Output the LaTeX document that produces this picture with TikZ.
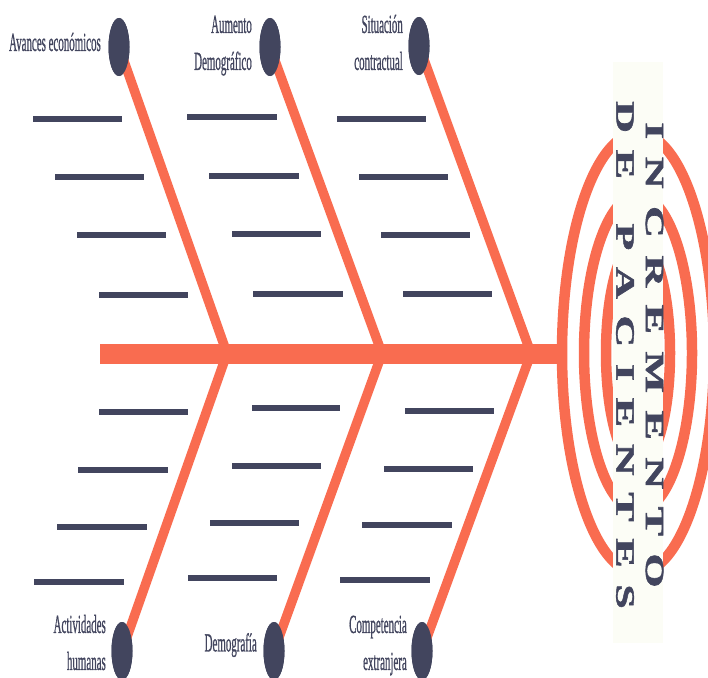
\documentclass[tikz,border=0pt]{standalone}
\usepackage{fontspec}
\setmainfont{Liberation Serif}
\newfontfamily\lblfont[FakeBold=1.2]{Liberation Serif}
\newfontfamily\bandfont[FakeBold=1.5]{Liberation Serif Bold}
\usetikzlibrary{shapes.geometric}
\definecolor{coral}{RGB}{249,108,80}
\definecolor{navy}{RGB}{66,69,94}
\definecolor{bandcol}{RGB}{252,253,246}
\newcommand{\lbl}[1]{\scalebox{0.42}[1]{\lblfont\fontsize{26}{37}\selectfont\begin{tabular}{@{}r@{}}#1\end{tabular}}}
\newcommand{\mygap}{\hspace{17.5pt}}
\newcommand{\mygapb}{\hspace{16.7pt}}
\begin{document}
\begin{tikzpicture}[x=1pt,y=-1pt,
  rib/.style={navy, line width=5.5},
  spine/.style={coral, line width=20},
  branch/.style={coral, line width=9.5},
  ring/.style={coral, line width=10.5},
  head/.style={ellipse, fill=navy, minimum width=21, minimum height=58, inner sep=0},
  label/.style={text=navy, inner sep=0, anchor=east},
  bandtext/.style={text=navy, inner sep=0, anchor=north}]
\useasboundingbox (0,0) rectangle (708,677);
\fill[white] (0,0) rectangle (708,677);
% ribs
\foreach \a/\b/\y in {33/122/119, 55/144/177, 77/166/235, 99/188/295,
                      187/277/117, 209/299/176, 232/321/234, 253/343/294,
                      337/426/119, 359/448/177, 381/470/235, 403/492/294,
                      99/188/412, 78/168/470, 57/147/527, 34/124/582,
                      252/340/408, 232/321/466, 210/299/523, 188/277/578,
                      405/494/411, 384/473/469, 362/452/525, 340/430/580}
  \draw[rib] (\a,\y) -- (\b,\y);
% spine
\coordinate (tail) at (100,353.5);
\coordinate (headpt) at (562,353.5);
\draw[spine] (tail) -- (headpt);
\coordinate (j1) at (227,353.5);
\coordinate (j2) at (382,353.5);
\coordinate (j3) at (531,353.5);
% heads
\node[head] (u1) at (119,47) {};
\node[head] (u2) at (270,47) {};
\node[head] (u3) at (419,46) {};
\node[head] (d1) at (122,651) {};
\node[head] (d2) at (274,651) {};
\node[head] (d3) at (422,651) {};
\draw[branch] (u1.center) -- (j1);
\draw[branch] (u2.center) -- (j2);
\draw[branch] (u3.center) -- (j3);
\draw[branch] (d1.center) -- (j1);
\draw[branch] (d2.center) -- (j2);
\draw[branch] (d3.center) -- (j3);
\foreach \n in {u1,u2,u3,d1,d2,d3} \node[head] at (\n) {};
% rings
\draw[ring] (638,353) ellipse [x radius=76, y radius=220];
\draw[ring] (638,353) ellipse [x radius=54, y radius=158];
\draw[ring] (638,353) ellipse [x radius=32, y radius=112];
% band
\fill[bandcol] (613,62) rectangle (663,643);
\node[bandtext] (t1) at (654.5,122) {\rotatebox{-90}{\scalebox{1}[0.6]{\bandfont\fontsize{44}{44}\selectfont I\mygap N\mygap C\mygap R\mygap E\mygap M\mygap E\mygap N\mygap T\mygap O}}};
\node[bandtext] (t2) at (625,101) {\rotatebox{-90}{\scalebox{1}[0.6]{\bandfont\fontsize{44}{44}\selectfont D\mygapb E\mygapb\hspace{11pt}\mygapb P\mygapb A\mygapb C\mygapb I\mygapb E\mygapb N\mygapb T\mygapb E\mygapb S}}};
% labels
\node[label] (l1) at (101,43.5) {\lbl{Avances económicos}};
\node[label] (l2) at (252,44) {\lbl{Aumento\\Demográfico}};
\node[label] (l3) at (403,44) {\lbl{Situación\\contractual}};
\node[label] (l4) at (106,644) {\lbl{Actividades\\humanas}};
\node[label] (l5) at (257,644) {\lbl{Demografía}};
\node[label] (l6) at (407,644) {\lbl{Competencia\\extranjera}};
\end{tikzpicture}
\end{document}
